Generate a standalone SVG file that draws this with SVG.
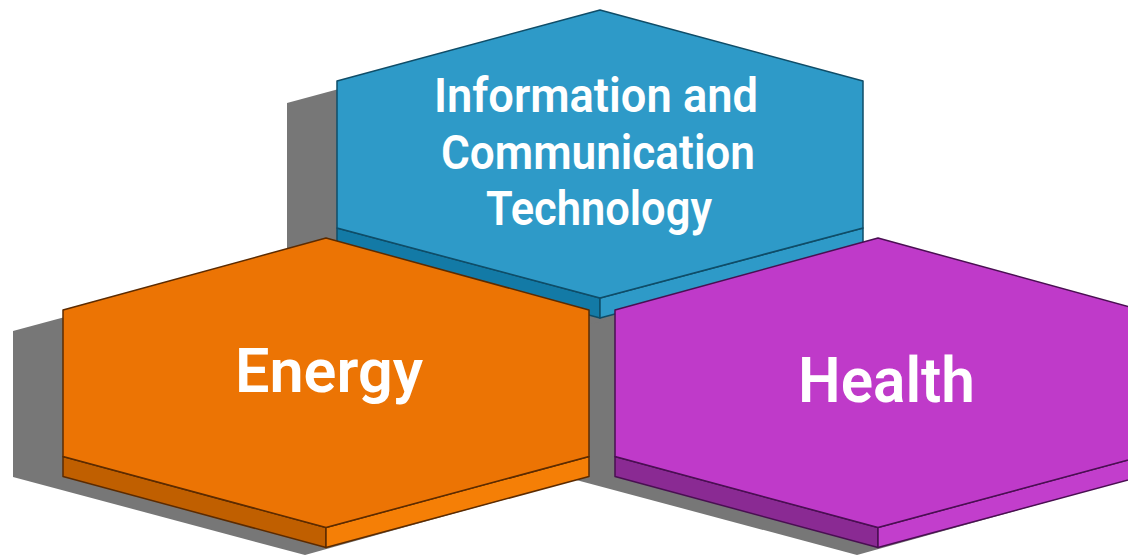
<svg xmlns="http://www.w3.org/2000/svg" width="1128" height="556" viewBox="0 0 1128 556">
  <style>
    .shadow { fill: #777777; }
    .label { fill: #ffffff; font-family: Roboto, "Liberation Sans", sans-serif; font-weight: 600; }
    .ict .top { fill: #2e9ac8; stroke: #0f4d68; stroke-width: 1.5; stroke-linejoin: round; }
    .ict .left { fill: #137aa6; stroke: #0f4d68; stroke-width: 1.5; stroke-linejoin: round; }
    .ict .right { fill: #2e9ac8; stroke: #0f4d68; stroke-width: 1.5; stroke-linejoin: round; }
    .energy .top { fill: #ec7404; stroke: #5c2b00; stroke-width: 1.5; stroke-linejoin: round; }
    .energy .left { fill: #c05f00; stroke: #5c2b00; stroke-width: 1.5; stroke-linejoin: round; }
    .energy .right { fill: #f57f06; stroke: #5c2b00; stroke-width: 1.5; stroke-linejoin: round; }
    .health .top { fill: #bf3ac9; stroke: #4a0f52; stroke-width: 1.5; stroke-linejoin: round; }
    .health .left { fill: #8a2a93; stroke: #4a0f52; stroke-width: 1.5; stroke-linejoin: round; }
    .health .right { fill: #c23ecc; stroke: #4a0f52; stroke-width: 1.5; stroke-linejoin: round; }
  </style>

  <g id="shadows">
    <polygon class="shadow" points="287,103 550,32 841,112 841,262 590,336 287,249"/>
    <polygon class="shadow" points="13,331 276,260 567,340 567,482 305,555 13,477"/>
    <polygon class="shadow" points="565,331 828,260 1119,340 1119,482 857,555 565,477"/>
  </g>

  <g id="connectors"/>

  <g id="node-ict" class="ict">
    <polygon class="left" points="337,228 600,298 600,318 337,248"/>
    <polygon class="right" points="600,298 863,228 863,248 600,318"/>
    <polygon class="top" points="600,10 863,81 863,228 600,298 337,228 337,81"/>
    <text class="label" x="434" y="112" font-size="49" textLength="324" lengthAdjust="spacingAndGlyphs">Information and</text>
    <text class="label" x="441" y="169" font-size="49" textLength="314" lengthAdjust="spacingAndGlyphs">Communication</text>
    <text class="label" x="486" y="225" font-size="49" textLength="226" lengthAdjust="spacingAndGlyphs">Technology</text>
  </g>

  <g id="node-energy" class="energy">
    <polygon class="left" points="63,456.5 326,527.5 326,547.5 63,476.5"/>
    <polygon class="right" points="326,527.5 589,456.5 589,476.5 326,547.5"/>
    <polygon class="top" points="326,238 589,310 589,456.5 326,527.5 63,456.5 63,310"/>
    <text class="label" x="235" y="392" font-size="62" textLength="188" lengthAdjust="spacingAndGlyphs">Energy</text>
  </g>

  <g id="node-health" class="health">
    <polygon class="left" points="615,456.5 878,527.5 878,547.5 615,476.5"/>
    <polygon class="right" points="878,527.5 1141,456.5 1141,476.5 878,547.5"/>
    <polygon class="top" points="878,238 1141,310 1141,456.5 878,527.5 615,456.5 615,310"/>
    <text class="label" x="798" y="402" font-size="63" textLength="177" lengthAdjust="spacingAndGlyphs">Health</text>
  </g>
</svg>
